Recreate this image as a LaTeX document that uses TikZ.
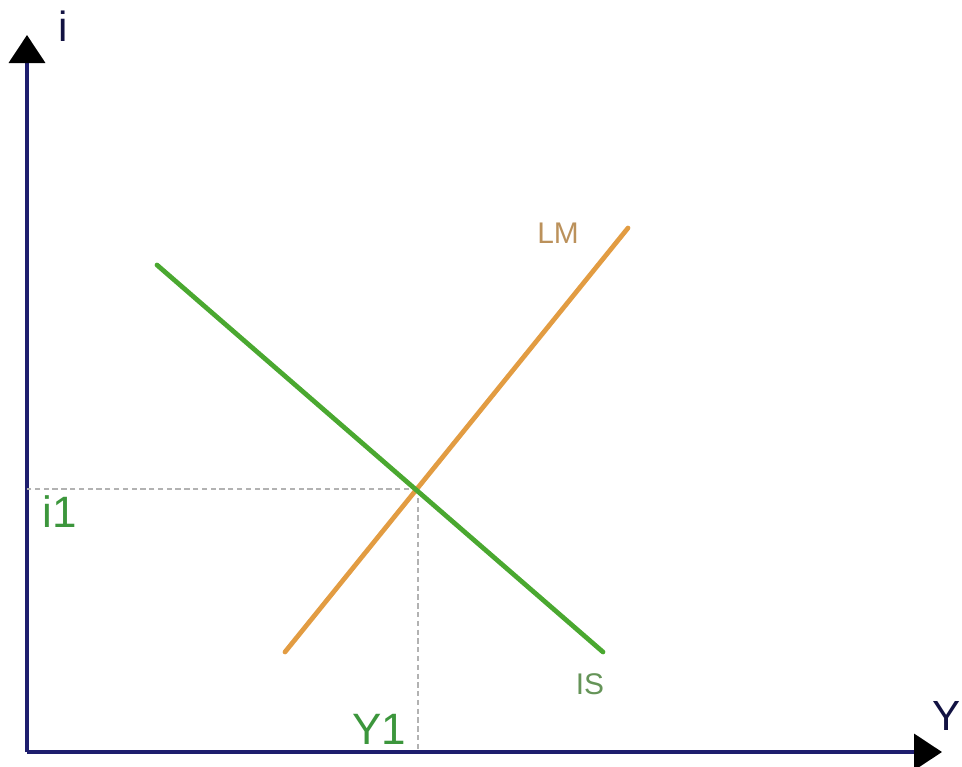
\documentclass[tikz,border=0pt]{standalone}
\usepackage{fontspec}
\setmainfont{Liberation Sans}
\usepackage{tikz}
\usetikzlibrary{calc, positioning, arrows.meta}
\definecolor{axisBlue}{RGB}{30, 30, 110}
\definecolor{isGreen}{RGB}{74, 168, 48}
\definecolor{lmOrange}{RGB}{226, 156, 66}
\definecolor{lblGreen}{RGB}{60, 150, 60}

\begin{document}
\begin{tikzpicture}[x=0.2mm, y=-0.2mm,
    axis/.style={line width=2.2pt, axisBlue, -{Triangle[length=5.6mm, width=7.2mm, black]}},
    curve/.style={line width=2.7pt, line cap=round},
    guide/.style={gray!60, line width=0.6pt, dash pattern=on 3pt off 2pt}]
  \useasboundingbox (0,0) rectangle (962,767);

  \coordinate (O) at (27,752);
  \coordinate (yTip) at (27,35);
  \coordinate (xTip) at (942,752);

  \draw[axis] (O) -- (yTip);
  \draw[axis] (O) -- (xTip);
  \node[font=\fontsize{24}{26}\selectfont, axisBlue!60!black] (iLab) at (63,26) {i};
  \node[font=\fontsize{24}{26}\selectfont, axisBlue!60!black, anchor=east, inner sep=0pt] (yLab) at (961,716) {Y};

  % IS and LM
  \coordinate (isA) at (157,265);
  \coordinate (isB) at (603,652);
  \coordinate (lmA) at (285,652);
  \coordinate (lmB) at (628,228);
  \coordinate (E) at (418,489);

  \draw[guide] (E) -- (O |- E);
  \draw[guide] (E) -- (E |- O);

  \draw[curve, lmOrange] (lmA) -- (lmB);
  \draw[curve, isGreen] (isA) -- (isB);

  \node[font=\fontsize{17}{19}\selectfont, lmOrange!60!gray] (lmLab) at (558,233) {LM};
  \node[font=\fontsize{17}{19}\selectfont, isGreen!50!gray] (isLab) at (590,684) {IS};
  \node[font=\fontsize{25}{27}\selectfont, lblGreen] (i1Lab) at (60,512) {i1};
  \node[font=\fontsize{25}{27}\selectfont, lblGreen] (y1Lab) at (379,729) {Y1};
\end{tikzpicture}
\end{document}
